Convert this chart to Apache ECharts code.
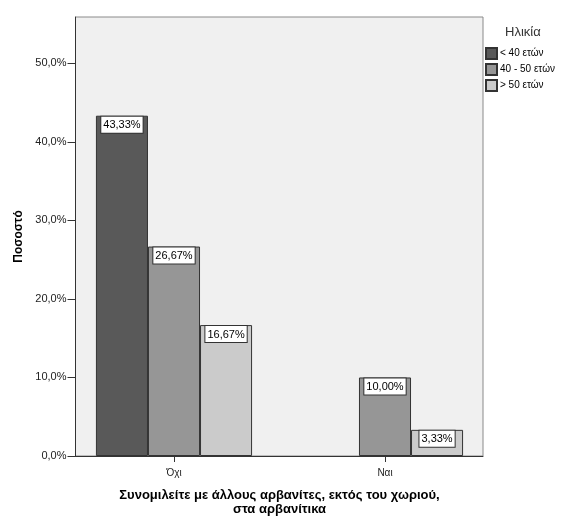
<!DOCTYPE html>
<html>
<head>
<meta charset="utf-8">
<script src="https://cdn.jsdelivr.net/npm/echarts@6/dist/echarts.min.js"></script>
<style>
  html, body { margin: 0; padding: 0; background: #fff; }
  #chart { width: 561px; height: 518px; }
</style>
</head>
<body>
<div id="chart"></div>
<script>
// Answer categories and age-group percentages
const categories = ['Όχι', 'Ναι'];
const ageGroups = ['< 40 ετών', '40 - 50 ετών', '> 50 ετών'];
const under40 = [43.33, null];
const from40to50 = [26.67, 10.00];
const over50 = [16.67, 3.33];
const yTicks = [0, 10, 20, 30, 40, 50];
const yMax = 55.9;

const FONT = "'Liberation Sans', Arial, sans-serif";
const pct = v => v.toFixed(1).replace('.', ',') + '%';
const pct2 = v => v.toFixed(2).replace('.', ',') + '%';

const colors = ['#595959', '#969696', '#cbcbcb'];
const seriesData = [under40, from40to50, over50];

const chart = echarts.init(document.getElementById('chart'), null, { renderer: 'canvas' });

chart.setOption({
  animation: false,
  textStyle: { fontFamily: FONT },
  title: {
    text: 'Ηλικία',
    left: 505,
    top: 26,
    padding: 0,
    textStyle: { fontFamily: FONT, fontSize: 13, fontWeight: 'normal', color: '#333' }
  },
  legend: {
    orient: 'vertical',
    left: 485,
    top: 47,
    padding: 0,
    icon: 'rect',
    itemWidth: 11,
    itemHeight: 11,
    itemGap: 3,
    selectedMode: false,
    data: ageGroups,
    textStyle: { fontFamily: FONT, fontSize: 10, color: '#000', padding: [0, 0, 0, -2] }
  },
  grid: [
    // bar placement grid
    { left: 68.5, right: 70.5, top: 17, bottom: 62, outerBoundsMode: 'none', containLabel: false },
    // framed plot area
    { left: 75.5, right: 78, top: 17, bottom: 62, outerBoundsMode: 'none', containLabel: false,
      show: true, backgroundColor: '#f0f0f0', borderColor: '#8a8a8a', borderWidth: 1 }
  ],
  xAxis: [
    {
      gridIndex: 0,
      type: 'category',
      data: categories,
      axisLine: { show: false },
      axisTick: { show: true, alignWithLabel: true, length: 6, lineStyle: { color: '#333' } },
      axisLabel: { fontFamily: FONT, fontSize: 10, color: '#222', margin: 12 },
      name: 'Συνομιλείτε με άλλους αρβανίτες, εκτός του χωριού,\nστα αρβανίτικα',
      nameLocation: 'middle',
      nameGap: 32,
      nameTextStyle: { fontFamily: FONT, fontSize: 13, fontWeight: 'bold', color: '#000', lineHeight: 14 }
    },
    {
      gridIndex: 1,
      type: 'value',
      min: 0,
      max: 1,
      axisLine: { show: true, lineStyle: { color: '#333' } },
      axisTick: { show: false },
      axisLabel: { show: false },
      splitLine: { show: false }
    }
  ],
  yAxis: [
    { gridIndex: 0, type: 'value', min: 0, max: yMax, show: false, splitLine: { show: false } },
    {
      gridIndex: 1,
      type: 'value',
      min: 0,
      max: yMax,
      axisLine: { show: true, lineStyle: { color: '#333' } },
      axisTick: { show: true, length: 8, customValues: yTicks, lineStyle: { color: '#333' } },
      axisLabel: { fontFamily: FONT, fontSize: 11, color: '#222', margin: 9, customValues: yTicks, formatter: pct },
      splitLine: { show: false },
      name: 'Ποσοστό',
      nameLocation: 'middle',
      nameGap: 50,
      nameTextStyle: { fontFamily: FONT, fontSize: 12, fontWeight: 'bold', color: '#000' }
    }
  ],
  series: ageGroups.map((g, i) => ({
    name: g,
    type: 'bar',
    xAxisIndex: 0,
    yAxisIndex: 0,
    data: seriesData[i],
    barGap: '0%',
    barCategoryGap: '26%',
    itemStyle: { color: colors[i], borderColor: '#333', borderWidth: 1 },
    label: {
      show: true,
      position: 'insideTop',
      distance: 1,
      formatter: p => pct2(p.value),
      fontFamily: FONT,
      fontSize: 11,
      color: '#000',
      backgroundColor: '#fff',
      borderColor: '#333',
      borderWidth: 1,
      padding: [2, 2, 1, 2],
      lineHeight: 13
    }
  }))
});
</script>
</body>
</html>
